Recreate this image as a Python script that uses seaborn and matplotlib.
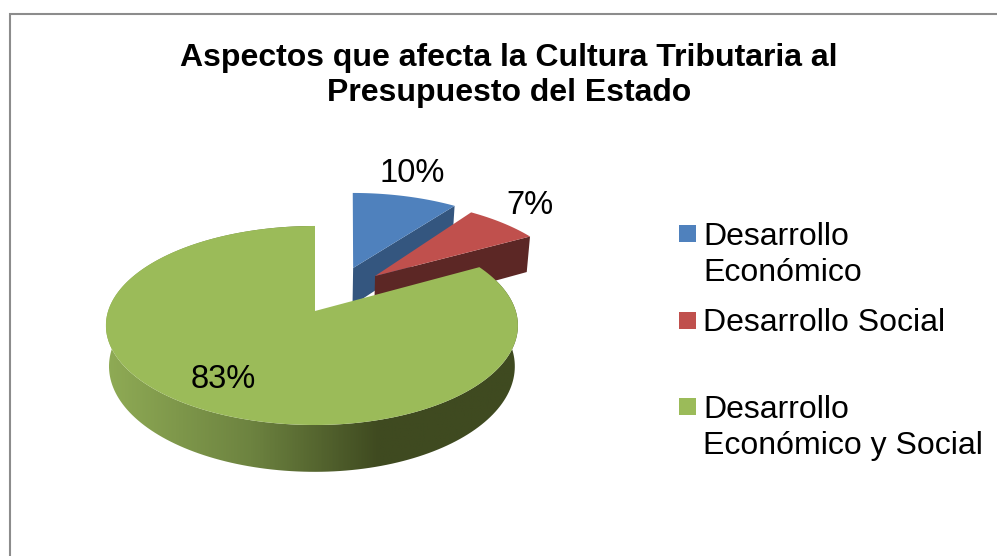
import numpy as np
import matplotlib
matplotlib.use('Agg')
import matplotlib.pyplot as plt
from matplotlib.colors import LinearSegmentedColormap
from matplotlib.patches import Polygon, Rectangle
import seaborn as sns

## Data
title = 'Aspectos que afecta la Cultura Tributaria al\nPresupuesto del Estado'
categories = ['Desarrollo\nEconómico', 'Desarrollo Social', 'Desarrollo\nEconómico y Social']
values = [10, 7, 83]

## Style
face_colors = sns.color_palette(['#4f81bd', '#c0504d', '#9bbb59'])
cut_colors = ['#34567f', '#5c2725']
shade_colors = ['#8fab55', '#6d8340', '#3f4a20', '#3f4a20']
sns.set_theme(style='white')
plt.rcParams['font.family'] = ['Liberation Sans', 'DejaVu Sans']

# where each slice is pulled to, measured on the unit disk
explode = [(0.2, 0.472), (0.311, 0.379), (0.0, 0.0)]
rim_shift = [0.025, 0.0, 0.0]
tip_x, tip_y = 315, 311
persp, scale_x, scale_y = 0.1457, 203.8, 97.4
depth = 40

fig = plt.figure(figsize=(9.97, 5.56), dpi=100)
ax = fig.add_axes([0, 0, 1, 1])


# disk -> picture, with some perspective like the 3D pie in Excel
def project(u, v, lower=False):
    w = 1 + persp * v
    x = tip_x + scale_x * u / w
    y = tip_y - scale_y * v / w
    if lower:
        x = 312 + (x - 312) * 0.985
        y = y + depth / w
    return np.column_stack([x, y])


def rim(start, end, i, lower=False):
    t = np.radians(np.linspace(start, end, 200))
    off = explode[i]
    u = off[0] + rim_shift[i] + np.sin(t)
    if i == 2:
        # big slice sits a little left of its tip
        u = u - 0.015 * np.abs(np.sin(t))
    return project(u, off[1] + np.cos(t), lower)


def tip(i, lower=False):
    off = explode[i]
    return project(np.array([off[0]]), np.array([off[1]]), lower)


edges = np.cumsum([0] + values) / sum(values) * 360

for i in range(3):
    start, end = edges[i], edges[i + 1]
    if i < 2:
        # cut side of the slice, the one facing us
        a = np.vstack([tip(i), rim(end, end, i)[:1]])
        b = np.vstack([rim(end, end, i, True)[:1], tip(i, True)])
        ax.add_patch(Polygon(np.vstack([a, b]), facecolor=cut_colors[i], edgecolor='none'))
    else:
        # outer wall with the shading
        wall = np.vstack([rim(start, end, i), rim(start, end, i, True)[::-1]])
        cmap = LinearSegmentedColormap.from_list('wall', list(zip([0, 0.35, 0.66, 1], shade_colors)))
        im = ax.imshow(np.linspace(0, 1, 400).reshape(1, -1), cmap=cmap, aspect='auto',
                       extent=(106, 518, 480, 220))
        im.set_clip_path(Polygon(wall, transform=ax.transData))
    top = np.vstack([tip(i), rim(start, end, i)])
    ax.add_patch(Polygon(top, facecolor=face_colors[i], edgecolor='none'))

## Percent labels
label_pos = [(412, 173), (530, 205), (223, 379)]
for v, pos in zip(values, label_pos):
    ax.text(pos[0], pos[1], f'{v}%', fontsize=23.5, color='black', ha='center', va='center')

## Title
ax.text(509, 75.5, title, fontsize=23, fontweight='bold', color='black', ha='center',
        va='center', linespacing=1.2)

## Legend
legend_y = [233.5, 320.5, 406.5]
text_y = [255, 323, 428]
for i, name in enumerate(categories):
    ax.add_patch(Rectangle((679, legend_y[i] - 8.5), 17, 17, facecolor=face_colors[i], edgecolor='none'))
    ax.text(703, text_y[i], name, fontsize=23, color='black', ha='left', va='center', linespacing=1.24)

## Frame of the chart area
ax.plot([10, 10, 997], [556, 14, 14], color='#8c8c8c', lw=1.5, solid_joinstyle='miter')

ax.set_xlim(0, 997)
ax.set_ylim(556, 0)
ax.axis('off')
fig.savefig('out.png', dpi=100)
